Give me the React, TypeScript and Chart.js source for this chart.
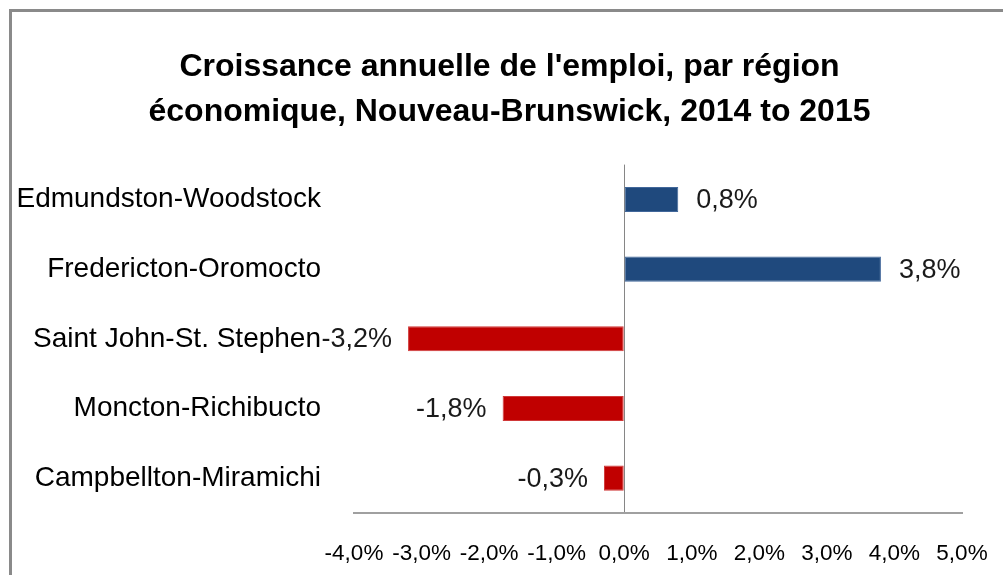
import React, { useEffect, useRef } from "react";
import { Chart, registerables } from "chart.js";

Chart.register(...registerables);

const categories = [
  "Edmundston-Woodstock",
  "Fredericton-Oromocto",
  "Saint John-St. Stephen",
  "Moncton-Richibucto",
  "Campbellton-Miramichi",
];
const growth = [0.8, 3.8, -3.2, -1.8, -0.3];
const xTickValues = [-4, -3, -2, -1, 0, 1, 2, 3, 4, 5];
const titleLines = [
  "Croissance annuelle de l'emploi, par région",
  "économique, Nouveau-Brunswick, 2014 to 2015",
];

const POS_COLOR = "#1F497D";
const NEG_COLOR = "#C00000";
const POS_BORDER = "#41679A";
const NEG_BORDER = "#D03838";
const FONT = "'Liberation Sans', Arial, sans-serif";

const fmt = (v: number) => v.toFixed(1).replace(".", ",") + "%";

const framePlugin = {
  id: "frame",
  beforeDraw(chart: any) {
    const { ctx, width, height } = chart;
    ctx.save();
    ctx.fillStyle = "#ffffff";
    ctx.fillRect(0, 0, width, height);
    ctx.fillStyle = "#8a8a8a";
    ctx.fillRect(9, 9, width - 9, 3);
    ctx.fillRect(9, 9, 3, height - 9);
    ctx.restore();
  },
};

const dataLabelPlugin = {
  id: "dataLabels",
  afterDatasetsDraw(chart: any) {
    const { ctx } = chart;
    const meta = chart.getDatasetMeta(0);
    const values = chart.data.datasets[0].data as number[];
    ctx.save();
    ctx.font = `27px ${FONT}`;
    ctx.fillStyle = "#1a1a1a";
    ctx.textBaseline = "middle";
    meta.data.forEach((bar: any, i: number) => {
      const v = values[i];
      if (v >= 0) {
        ctx.textAlign = "left";
        ctx.fillText(fmt(v), bar.x + 18, bar.y + 1);
      } else {
        ctx.textAlign = "right";
        ctx.fillText(fmt(v), bar.x - 16, bar.y + 1);
      }
    });
    ctx.restore();
  },
};

export default function App() {
  const canvasRef = useRef<HTMLCanvasElement | null>(null);

  useEffect(() => {
    if (!canvasRef.current) return;
    const chart = new Chart(canvasRef.current, {
      type: "bar",
      data: {
        labels: categories,
        datasets: [
          {
            data: growth,
            backgroundColor: growth.map((v) => (v >= 0 ? POS_COLOR : NEG_COLOR)),
            borderColor: growth.map((v) => (v >= 0 ? POS_BORDER : NEG_BORDER)),
            borderWidth: 1,
            borderSkipped: false,
            barPercentage: 0.36,
            categoryPercentage: 1,
          },
        ],
      },
      options: {
        indexAxis: "y",
        animation: false,
        responsive: false,
        maintainAspectRatio: false,
        layout: { padding: { left: 16, right: 0, top: 0, bottom: 0 } },
        plugins: {
          legend: { display: false },
          tooltip: { enabled: false },
          title: {
            display: true,
            text: titleLines,
            color: "#000",
            font: { family: FONT, size: 32, weight: "bold", lineHeight: 1.4 },
            padding: { top: 45, bottom: 30 },
          },
        },
        scales: {
          x: {
            type: "linear",
            min: -4,
            max: 5,
            afterBuildTicks(scale: any) {
              scale.ticks = xTickValues.map((v) => ({ value: v }));
            },
            afterFit(scale: any) {
              scale.height = 62;
              scale.paddingRight = 41;
              scale.paddingLeft = 0;
            },
            ticks: {
              autoSkip: false,
              maxRotation: 0,
              minRotation: 0,
              padding: 27,
              color: "#000",
              font: { family: FONT, size: 22.5 },
              callback: (v: any) => fmt(Number(v)),
            },
            grid: {
              drawTicks: false,
              color: (ctx: any) => (ctx.tick && ctx.tick.value === 0 ? "#868686" : "rgba(0,0,0,0)"),
              lineWidth: 1,
            },
            border: { display: true, color: "#a0a0a0", width: 2 },
          },
          y: {
            afterFit(scale: any) {
              scale.width = 338;
            },
            ticks: {
              padding: 25,
              color: "#000",
              font: { family: FONT, size: 28 },
            },
            grid: { display: false },
            border: { display: false },
          },
        },
      },
      plugins: [framePlugin, dataLabelPlugin],
    });
    return () => chart.destroy();
  }, []);

  return (
    <div style={{ position: "fixed", left: 0, top: 0, width: 1003, height: 575 }}>
      <canvas ref={canvasRef} width={1003} height={575} style={{ display: "block" }} />
    </div>
  );
}
